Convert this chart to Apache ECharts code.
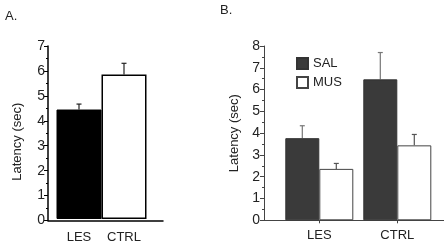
<!DOCTYPE html>
<html><head><meta charset="utf-8">
<script src="https://cdn.jsdelivr.net/npm/echarts@6/dist/echarts.min.js"></script>
<style>html,body{margin:0;padding:0;background:#fff}#c{width:444px;height:244px}</style>
</head><body><div id="c"></div>
<script>
// Panel A data
var categoriesA = ['LES', 'CTRL'];
var latencyA = [4.43, 5.85];
var errA = [0.22, 0.45];
// Panel B data
var categoriesB = ['LES', 'CTRL'];
var salB = [3.77, 6.47];
var salErrB = [0.57, 1.23];
var musB = [2.36, 3.44];
var musErrB = [0.25, 0.5];
var seriesNamesB = ['SAL', 'MUS'];
var yTicksA = [0, 1, 2, 3, 4, 5, 6, 7];
var yTicksB = [0, 1, 2, 3, 4, 5, 6, 7, 8];

var FONT = 'Liberation Sans';
var chart = echarts.init(document.getElementById('c'), null, {renderer: 'canvas'});

function errItem(offset, color, capHalf, lw) {
  return function (params, api) {
    var x = api.value(0), v = api.value(1), e = api.value(2);
    var p0 = api.coord([x, v]);
    var p1 = api.coord([x, v + e]);
    var cx = p0[0] + offset;
    return {
      type: 'group',
      children: [
        {type: 'line', shape: {x1: cx, y1: p0[1], x2: cx, y2: p1[1]}, style: {stroke: color, lineWidth: lw}},
        {type: 'line', shape: {x1: cx - capHalf, y1: p1[1], x2: cx + capHalf, y2: p1[1]}, style: {stroke: color, lineWidth: lw}}
      ]
    };
  };
}

var axisA = {lineStyle: {color: '#000', width: 1.5}};
var axisB = {lineStyle: {color: '#444', width: 1}};

var option = {
  backgroundColor: '#fff',
  animation: false,
  textStyle: {fontFamily: FONT},
  title: [
    {text: 'A.', left: 0, top: 5, textStyle: {fontFamily: FONT, fontSize: 13, fontWeight: 'normal', color: '#222'}},
    {text: 'B.', left: 215, top: -1, textStyle: {fontFamily: FONT, fontSize: 13, fontWeight: 'normal', color: '#222'}}
  ],
  legend: {
    data: seriesNamesB, orient: 'vertical', left: 296, top: 57, itemWidth: 11, itemHeight: 11, itemGap: 6,
    icon: 'rect', textStyle: {fontFamily: FONT, fontSize: 13, color: '#222'}, padding: 0
  },
  grid: [
    {left: 48, top: 46, width: 115, height: 174.5},
    {left: 56.5, top: 46, width: 90, height: 174.5},
    {left: 264, top: 46, width: 180, height: 174.3},
    {left: 280.3, top: 46, width: 156, height: 174.3}
  ],
  xAxis: [
    {gridIndex: 0, type: 'category', data: [''], axisLine: axisA, axisTick: {show: false}, axisLabel: {show: false}},
    {gridIndex: 1, type: 'category', data: categoriesA, axisLine: {show: false}, axisTick: {show: false},
      axisLabel: {fontFamily: FONT, fontSize: 13, color: '#222', margin: 12}},
    {gridIndex: 2, type: 'category', data: [''], axisLine: axisB, axisTick: {show: false}, axisLabel: {show: false}},
    {gridIndex: 3, type: 'category', data: categoriesB, axisLine: {show: false},
      axisTick: {show: true, alignWithLabel: true, length: 3, lineStyle: {color: '#444'}},
      axisLabel: {fontFamily: FONT, fontSize: 13, color: '#222', margin: 9}}
  ],
  yAxis: [
    {gridIndex: 0, type: 'value', min: yTicksA[0], max: yTicksA[yTicksA.length - 1], interval: 1,
      name: 'Latency (sec)', nameLocation: 'middle', nameGap: 24,
      nameTextStyle: {fontFamily: FONT, fontSize: 13, color: '#222', padding: [0, 17, 0, 0]},
      axisLine: {show: true, lineStyle: {color: '#000', width: 1.5}},
      axisTick: {show: true, length: 4, lineStyle: {color: '#000'}},
      minorTick: {show: true, splitNumber: 2, length: 2, lineStyle: {color: '#000'}},
      splitLine: {show: false},
      axisLabel: {fontFamily: FONT, fontSize: 14, color: '#222', margin: 3}},
    {gridIndex: 1, type: 'value', min: yTicksA[0], max: yTicksA[yTicksA.length - 1], show: false, splitLine: {show: false}},
    {gridIndex: 2, type: 'value', min: yTicksB[0], max: yTicksB[yTicksB.length - 1], interval: 1,
      name: 'Latency (sec)', nameLocation: 'middle', nameGap: 23,
      nameTextStyle: {fontFamily: FONT, fontSize: 13, color: '#222'},
      axisLine: {show: true, lineStyle: {color: '#444', width: 1}},
      axisTick: {show: true, length: 4, lineStyle: {color: '#444'}},
      minorTick: {show: true, splitNumber: 2, length: 2, lineStyle: {color: '#444'}},
      splitLine: {show: false},
      axisLabel: {fontFamily: FONT, fontSize: 14, color: '#222', margin: 4}},
    {gridIndex: 3, type: 'value', min: yTicksB[0], max: yTicksB[yTicksB.length - 1], show: false, splitLine: {show: false}}
  ],
  series: [
    {type: 'bar', xAxisIndex: 1, yAxisIndex: 1, barWidth: '100%', z: 2,
      data: latencyA.map(function (v, i) {
        return {value: v, itemStyle: i === 0 ? {color: '#000', borderColor: '#000', borderWidth: 1}
                                             : {color: '#fff', borderColor: '#000', borderWidth: 1.5}};
      })},
    {type: 'custom', xAxisIndex: 1, yAxisIndex: 1, z: 1,
      renderItem: errItem(0, '#222', 2.5, 1.2),
      data: latencyA.map(function (v, i) { return [i, v, errA[i]]; })},
    {name: seriesNamesB[0], type: 'bar', xAxisIndex: 3, yAxisIndex: 3, barWidth: 34, barGap: '0%', z: 2,
      itemStyle: {color: '#3a3a3a', borderColor: '#333', borderWidth: 1},
      data: salB},
    {name: seriesNamesB[1], type: 'bar', xAxisIndex: 3, yAxisIndex: 3, barWidth: 34, barGap: '0%', z: 2,
      itemStyle: {color: '#fff', borderColor: '#444', borderWidth: 1},
      data: musB},
    {type: 'custom', xAxisIndex: 3, yAxisIndex: 3, z: 1,
      renderItem: errItem(-17, '#777', 2.5, 1.2),
      data: salB.map(function (v, i) { return [i, v, salErrB[i]]; })},
    {type: 'custom', xAxisIndex: 3, yAxisIndex: 3, z: 1,
      renderItem: errItem(17, '#555', 2.5, 1.2),
      data: musB.map(function (v, i) { return [i, v, musErrB[i]]; })}
  ]
};
chart.setOption(option);
</script>
</body></html>
